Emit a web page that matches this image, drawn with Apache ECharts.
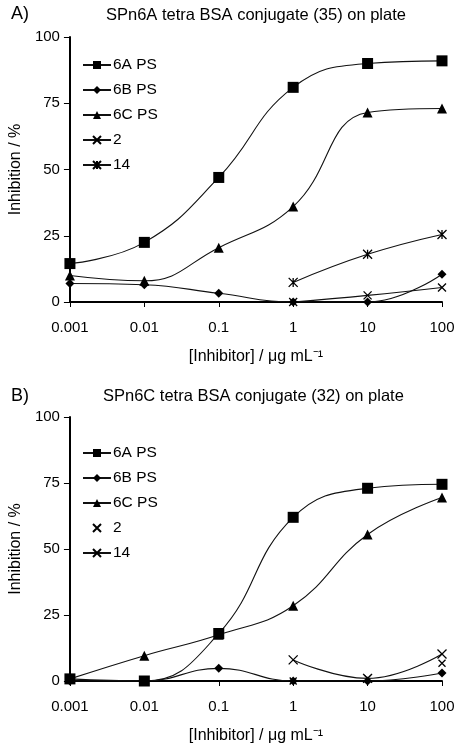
<!DOCTYPE html>
<html><head><meta charset="utf-8">
<script src="https://cdn.jsdelivr.net/npm/echarts@6/dist/echarts.min.js"></script>
<style>html,body{margin:0;padding:0;background:#fff}#c{width:462px;height:745px}</style>
</head><body><div id="c"></div>
<script>
const categories = ['0.001','0.01','0.1','1','10','100'];
const seriesNames = ['6A PS','6B PS','6C PS','2','14'];
// Panel A: SPn6A tetra BSA conjugate (35) on plate
const a6A = [14.5, 22.5, 47, 81, 90, 91];
const a6B = [7, 6.5, 3.3, 0, 0, 10.5];
const a6C = [10, 8, 20.5, 36, 71.5, 73];
const a2  = [null, null, null, 0, 2.5, 5.5];
const a14 = [null, null, null, 7.4, 18, 25.5];
// Panel B: SPn6C tetra BSA conjugate (32) on plate
const b6A = [0.8, 0, 18, 62, 73, 74.5];
const b6B = [0, 0, 4.8, 0, 0, 3];
const b6C = [0.8, 9.6, 17.5, 28.5, 55.5, 69.5];
const b2  = [null, null, null, 0, 1, 6.7];
const b14 = [null, null, null, 8, 1, 10.2];

const FONT = 'Liberation Sans, Arial, sans-serif';
const X_PATH = 'path://M0,0L10,10M10,0L0,10';
const STAR_PATH = 'path://M0,0L10,10M10,0L0,10M5,0L5,10';

function mk(name, data, idx, sym, size, opts) {
  opts = opts || {};
  const stroke = sym.indexOf('path://') === 0;
  return {
    name: name, type: 'line', xAxisIndex: idx, yAxisIndex: idx,
    data: data, smooth: 0.45, connectNulls: false,
    symbol: sym, symbolSize: size, showSymbol: true,
    color: '#000',
    lineStyle: { color: '#111', width: 1.1, opacity: opts.noLine ? 0 : 1 },
    itemStyle: stroke ? { color: '#000', borderColor: '#000', borderWidth: 1.3 } : { color: '#000' },
    emphasis: { disabled: true },
    z: opts.z || 3
  };
}

function xAxis(idx) {
  return {
    type: 'category', gridIndex: idx, data: categories, boundaryGap: false,
    axisLine: { lineStyle: { color: '#000', width: 2 } },
    axisTick: { show: true, length: 5, lineStyle: { color: '#000' } },
    axisLabel: { color: '#000', fontSize: 15, margin: 18, fontFamily: FONT },
    name: '[Inhibitor] / μg mL⁻¹', nameLocation: 'middle', nameGap: 47,
    nameTextStyle: { color: '#000', fontSize: 16, fontFamily: FONT },
    splitLine: { show: false }
  };
}
function yAxis(idx) {
  return {
    type: 'value', gridIndex: idx, min: 0, max: 100, interval: 25,
    axisLine: { show: true, lineStyle: { color: '#000', width: 2 } },
    axisTick: { show: true, length: 6, lineStyle: { color: '#000' } },
    axisLabel: { color: '#000', fontSize: 15, margin: 10, fontFamily: FONT },
    name: 'Inhibition / %', nameLocation: 'middle', nameGap: 44,
    nameTextStyle: { color: '#000', fontSize: 16, fontFamily: FONT },
    splitLine: { show: false }
  };
}
function legend(top, names) {
  return {
    orient: 'vertical', left: 82, top: top, data: names, padding: 0,
    itemWidth: 28, itemHeight: 10, itemGap: 9,
    textStyle: { color: '#000', fontSize: 15.5, fontFamily: FONT, padding: [0,0,0,-3] },
    selectedMode: false
  };
}

const chart = echarts.init(document.getElementById('c'), null, { renderer: 'canvas' });
chart.setOption({
  animation: false,
  backgroundColor: '#fff',
  title: [
    { text: 'A)', left: 11, top: 5, padding: 0, textStyle: { fontSize: 18, fontWeight: 'normal', color: '#000', fontFamily: FONT } },
    { text: 'SPn6A tetra BSA conjugate (35) on plate', left: 106, top: 7, padding: 0, textStyle: { fontSize: 16.5, fontWeight: 'normal', color: '#000', fontFamily: FONT } },
    { text: 'B)', left: 11, top: 387, padding: 0, textStyle: { fontSize: 18, fontWeight: 'normal', color: '#000', fontFamily: FONT } },
    { text: 'SPn6C tetra BSA conjugate (32) on plate', left: 103, top: 388, padding: 0, textStyle: { fontSize: 16.5, fontWeight: 'normal', color: '#000', fontFamily: FONT } }
  ],
  grid: [
    { left: 62, right: 20, top: 37, height: 265 },
    { left: 62, right: 20, top: 417, height: 264 }
  ],
  xAxis: [xAxis(0), xAxis(1)],
  yAxis: [yAxis(0), yAxis(1)],
  legend: [
    legend(57, seriesNames),
    Object.assign(legend(445, seriesNames.map(n => n + ' ')), { formatter: n => n.trim() })
  ],
  series: [
    mk(seriesNames[0], a6A, 0, 'rect', 11),
    mk(seriesNames[1], a6B, 0, 'diamond', 9),
    mk(seriesNames[2], a6C, 0, 'triangle', 10),
    mk(seriesNames[3], a2, 0, X_PATH, 8),
    mk(seriesNames[4], a14, 0, STAR_PATH, 9),
    mk(seriesNames[0] + ' ', b6A, 1, 'rect', 11),
    mk(seriesNames[1] + ' ', b6B, 1, 'diamond', 9),
    mk(seriesNames[2] + ' ', b6C, 1, 'triangle', 10),
    mk(seriesNames[3] + ' ', b2, 1, X_PATH, 7, { noLine: true }),
    mk(seriesNames[4] + ' ', b14, 1, X_PATH, 9)
  ]
});
</script></body></html>
